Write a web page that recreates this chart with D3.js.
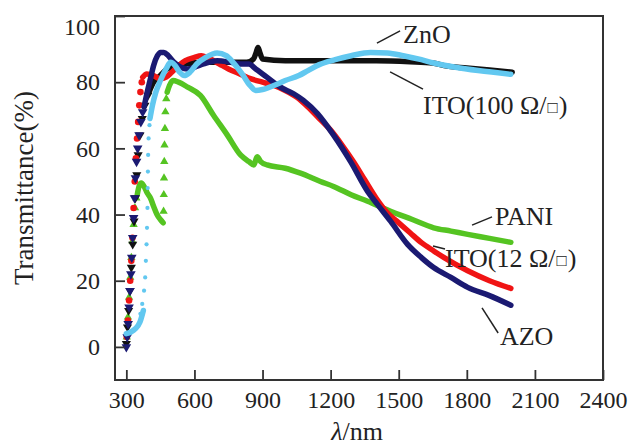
<!DOCTYPE html>
<html>
<head>
<meta charset="utf-8">
<script src="https://cdn.jsdelivr.net/npm/d3@7"></script>
<style>
  body { margin: 0; background: #fff; }
  svg { display: block; }
  text { font-family: "Liberation Serif", "Times New Roman", serif; fill: #222; }
</style>
</head>
<body>
<div id="chart"></div>
<script>
const xTicks = [300, 600, 900, 1200, 1500, 1800, 2100, 2400];
const yTicks = [0, 20, 40, 60, 80, 100];

// PANI (green)
const paniEdge = [[302,3],[307,9],[312,15],[317,21],[322,27],[327,32],[332,37],[338,42],[344,45]];
const paniLineA = [[348,46],[356,48.5],[366,49.5],[378,48.5],[392,46.5],[406,45],[420,42.5],[435,40],[450,38.5],[462,37.5]];
const paniRise = [[464,41],[465,46],[466,51],[467,56],[468,61],[470,66],[472,71],[476,75]];
const paniLineB = [[480,77],[490,79],[505,80.5],[530,80],[570,78.5],[626,76],[684,70],[745,64],[803,58],[840,56],[862,55],[876,57.5],[892,56],[920,55],[1000,54],[1067,52.5],[1155,50],[1213,48.5],[1290,46],[1363,44],[1464,41],[1560,38.5],[1654,36],[1730,35],[1804,34],[1900,32.8],[1994,31.6]];

// ZnO (black)
const znoEdge = [[300,1],[305,6],[310,11],[316,17],[322,24],[328,31],[334,38],[340,45],[346,52],[352,58],[360,64],[370,69],[382,73],[395,76]];
const znoLine = [[400,77],[420,80],[450,82],[480,84],[550,85.5],[650,86],[750,86],[830,86],[860,87],[872,89],[880,90.5],[888,89],[900,87],[1000,86.5],[1200,86.5],[1400,86.5],[1550,86.2],[1650,85.8],[1700,85],[1800,84.3],[1900,83.7],[2000,83]];

// ITO (12 ohm/sq, red)
const ito12Edge = [[302,3],[307,8],[312,14],[317,20],[322,26],[327,33],[332,42],[337,50],[342,57],[347,63],[352,68],[357,73],[362,77],[368,80]];
const ito12Line = [[372,81.5],[390,82.5],[420,82],[450,81],[475,81.5],[500,83],[530,85],[560,86.5],[600,87.5],[630,88],[670,87],[710,85.5],[750,84],[800,82.5],[850,81],[900,80],[950,79],[1000,77.5],[1050,75.5],[1100,72.5],[1150,69],[1200,65.5],[1250,61],[1300,56],[1350,50.5],[1400,45],[1450,40.5],[1500,37.5],[1550,34.5],[1600,31.5],[1654,29],[1700,27],[1804,23],[1900,20],[1994,17.7]];

// AZO (navy)
const azoEdge = [[300,0],[304,3],[308,7],[312,12],[316,17],[320,22],[324,27],[328,33],[332,39],[336,45],[340,51],[345,56],[350,60],[356,64],[364,68],[372,71]];
const azoLine = [[378,72.5],[392,77],[406,81],[420,85],[437,88],[450,89],[465,89],[485,88],[510,86],[540,84.5],[569,84],[600,84.5],[640,85.5],[700,86.5],[760,86],[803,85.5],[840,85.5],[870,84],[900,82.5],[948,80],[979,78.5],[1037,76.5],[1080,74.5],[1142,70.5],[1213,64],[1288,56],[1363,47],[1407,43],[1464,38],[1539,31],[1600,27],[1654,24],[1730,21],[1804,18],[1900,15.5],[1994,12.6]];

// ITO (100 ohm/sq, light blue)
const ito100Base = [[300,4],[320,4.5],[340,5.5],[360,7.5],[375,11]];
const ito100Edge = [[362,10],[370,13],[378,17],[383,21],[386,26],[389,31],[391,36],[393,42],[394,48],[395,53],[396,58],[398,63],[402,67]];
const ito100Line = [[404,69],[415,73],[430,77],[450,80.5],[475,84],[495,86],[515,85],[535,83],[555,82],[580,83],[610,85.5],[650,87.5],[700,88.8],[740,88],[770,86],[810,82.5],[845,79],[870,77.5],[900,77.8],[950,79],[1000,80.5],[1060,82],[1100,83.5],[1150,85.3],[1220,86.8],[1290,88],[1376,89],[1450,88.8],[1520,88],[1600,86.8],[1654,85.8],[1750,84.5],[1850,83.5],[1994,82.4]];

// labels placed in data units: text anchor point and leader line ends
const labelNames = ['ZnO', 'ITO(100 \u03A9/\u25A1)', 'PANI', 'ITO(12 \u03A9/\u25A1)', 'AZO'];
const labelAt = [[1519,91.8],[1607,70.4],[1924,36.8],[1704,24.1],[1946,0.6]];
const leaderFrom = [[1404,91.8],[1462,83.1],[1823,36.8],[1651,30.5],[1867,11.8]];
const leaderTo = [[1506,95.5],[1607,77.9],[1911,39.3],[1704,29.6],[1938,4.2]];

const serif = '"Liberation Serif", "Times New Roman", serif';
const width = 635, height = 448;
const x = d3.scaleLinear().domain([250, 2400]).range([115, 603]);
const y = d3.scaleLinear().domain([-10, 100]).range([380, 16]);

const svg = d3.select('#chart').append('svg')
    .attr('width', width).attr('height', height)
    .attr('viewBox', [0, 0, width, height]);

const series = [
    {color: '#55c422', lines: [paniLineA, paniLineB], marks: [paniEdge, paniRise], symbol: d3.symbolTriangle, rotate: 0, size: 30},
    {color: '#111111', lines: [znoLine], marks: [znoEdge], symbol: d3.symbolTriangle, rotate: 180, size: 36},
    {color: '#f01414', lines: [ito12Line], marks: [ito12Edge], symbol: d3.symbolCircle, rotate: 0, size: 34},
    {color: '#1b1a72', lines: [azoLine], marks: [azoEdge], symbol: d3.symbolTriangle, rotate: 180, size: 40},
    {color: '#62c8f0', lines: [ito100Base, ito100Line], marks: [ito100Edge], symbol: d3.symbolCircle, rotate: 0, size: 14}
];

const line = d3.line().x(d => x(d[0])).y(d => y(d[1])).curve(d3.curveMonotoneX);

const plot = svg.append('g');
series.forEach(s => {
    const g = plot.append('g');
    s.marks.forEach(m => {
        g.selectAll(null).data(m).join('path')
            .attr('transform', d => `translate(${x(d[0])},${y(d[1])}) rotate(${s.rotate})`)
            .attr('d', d3.symbol(s.symbol, s.size))
            .attr('fill', s.color);
    });
    s.lines.forEach(l => {
        g.append('path').datum(l)
            .attr('fill', 'none')
            .attr('stroke', s.color)
            .attr('stroke-width', 5.5)
            .attr('stroke-linejoin', 'round')
            .attr('stroke-linecap', 'round')
            .attr('d', line);
    });
});

// frame
svg.append('rect')
    .attr('x', 115).attr('y', 16).attr('width', 488).attr('height', 364)
    .attr('fill', 'none').attr('stroke', '#333').attr('stroke-width', 2);

// axes with inward ticks
const xAxis = svg.append('g')
    .attr('transform', 'translate(0,380)')
    .call(d3.axisBottom(x).tickValues(xTicks).tickFormat(d3.format('d')).tickSize(-10).tickPadding(11));
const yAxis = svg.append('g')
    .attr('transform', 'translate(115,0)')
    .call(d3.axisLeft(y).tickValues(yTicks).tickFormat(d3.format('d')).tickSize(-10).tickPadding(15));
[xAxis, yAxis].forEach(a => {
    a.attr('font-family', serif);
    a.select('.domain').remove();
    a.selectAll('.tick line').attr('stroke', '#333').attr('stroke-width', 1.8);
    a.selectAll('.tick text').attr('font-size', 24).style('font-family', serif).attr('fill', '#222');
});
yAxis.selectAll('.tick').filter(d => d === 100).select('text').attr('dy', '0.75em');

// axis titles
svg.append('text')
    .attr('transform', 'translate(33,188) rotate(-90)')
    .attr('text-anchor', 'middle')
    .attr('font-size', 27)
    .text('Transmittance(%)');

const xt = svg.append('text')
    .attr('x', 357).attr('y', 440)
    .attr('text-anchor', 'middle')
    .attr('font-size', 26);
xt.append('tspan').attr('font-style', 'italic').text('\u03BB');
xt.append('tspan').text('/nm');

// curve labels with leader lines; the square sign is set smaller
labelNames.forEach((name, i) => {
    svg.append('line')
        .attr('x1', x(leaderFrom[i][0])).attr('y1', y(leaderFrom[i][1]))
        .attr('x2', x(leaderTo[i][0])).attr('y2', y(leaderTo[i][1]))
        .attr('stroke', '#222').attr('stroke-width', 1.5);
    const t = svg.append('text')
        .attr('x', x(labelAt[i][0])).attr('y', y(labelAt[i][1]))
        .attr('font-size', 26);
    name.split(/(\u25A1)/).filter(p => p).forEach(p => {
        const sp = t.append('tspan').text(p);
        if (p === '\u25A1') sp.attr('font-size', 17).attr('dx', 1).attr('dy', -1);
        else if (p === ')') sp.attr('dy', 1).attr('dx', 1);
    });
});
</script>
</body>
</html>
